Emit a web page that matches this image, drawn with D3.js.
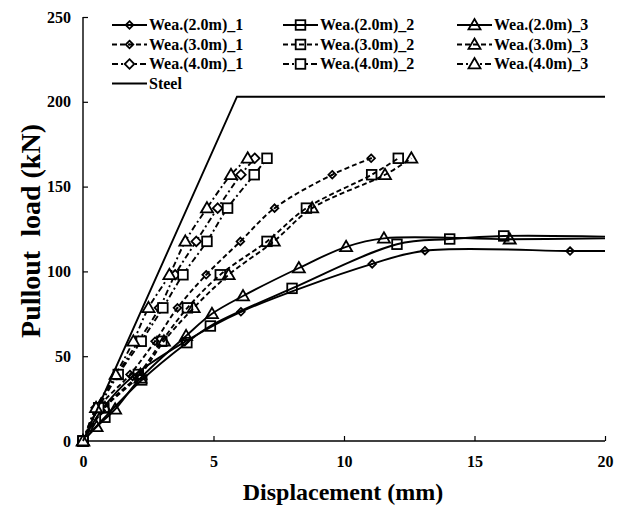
<!DOCTYPE html>
<html>
<head>
<meta charset="utf-8">
<script src="https://cdn.jsdelivr.net/npm/d3@7"></script>
<style>
body { margin: 0; background: #fff; }
svg text { font-family: "Liberation Serif", "Times New Roman", "DejaVu Serif", serif !important; font-weight: bold; fill: #000; }
</style>
</head>
<body>
<div id="chart"></div>
<script>
// tick labels
var xTicks = [0, 5, 10, 15, 20];
var yTicks = [0, 50, 100, 150, 200, 250];

// [displacement mm, load kN]
var wea2_1 = [[0,0],[0.7,18],[1.9,38],[3.9,58.5],[6.05,76.2],[11.08,104.4],[13.1,112.2],[18.66,112],[20,112]];
var wea2_2 = [[0,0],[0.84,14],[2.25,36],[3.98,58],[4.88,67.8],[8.01,90],[12.03,116],[14.05,119.1],[16.12,120.9],[20,120.5]];
var wea2_3 = [[0,0],[0.52,8.4],[1.23,18.7],[2.2,37],[3.95,62],[4.94,75],[6.13,85.5],[8.27,102],[10.08,114.5],[11.53,119.5],[16.35,119],[20,119.5]];
var wea3_1 = [[0,0],[0.6,19.6],[1.8,39.2],[2.76,58.8],[3.62,78.5],[4.72,98],[6.03,117.7],[7.34,137.3],[9.55,157],[11.04,166.7]];
var wea3_2 = [[0,0],[0.8,19.6],[2.12,39.2],[3.02,58.8],[4.0,78.5],[5.26,98],[7.05,117.7],[8.56,137.3],[11.06,157],[12.08,166.7]];
var wea3_3 = [[0,0],[0.84,19.6],[2.2,39.2],[3.1,58.8],[4.24,78.5],[5.58,98],[7.31,117.7],[8.78,137.3],[11.57,157],[12.58,166.7]];
var wea4_1 = [[0,0],[0.5,19.6],[1.3,39.2],[2.12,58.8],[2.93,78.5],[3.53,98],[4.34,117.7],[5.16,137.3],[6.05,157],[6.58,166.7]];
var wea4_2 = [[0,0],[0.6,19.6],[1.35,39.2],[2.23,58.8],[3.06,78.5],[3.83,98],[4.75,117.7],[5.54,137.3],[6.56,157],[7.05,166.7]];
var wea4_3 = [[0,0],[0.5,19.6],[1.25,39.2],[1.93,58.8],[2.51,78.5],[3.31,98],[3.92,117.7],[4.75,137.3],[5.67,157],[6.31,166.7]];
var steel = [[0,0],[5.9,203],[20,203]];

var names = ["Wea.(2.0m)_1","Wea.(2.0m)_2","Wea.(2.0m)_3",
             "Wea.(3.0m)_1","Wea.(3.0m)_2","Wea.(3.0m)_3",
             "Wea.(4.0m)_1","Wea.(4.0m)_2","Wea.(4.0m)_3","Steel"];
var seriesData = [wea2_1, wea2_2, wea2_3, wea3_1, wea3_2, wea3_3, wea4_1, wea4_2, wea4_3, steel];
var markers = ["diamond","square","triangle","diamond","square","triangle","diamond","square","triangle","none"];
var dashes = ["none","none","none","5,3","5,3","5,3","6,3,2,3","6,3,2,3","6,3,2,3","none"];

var FONT = "'Liberation Serif', 'Times New Roman', serif";

var width = 630, height = 507;
var svg = d3.select("#chart").append("svg")
    .attr("width", width)
    .attr("height", height);

var x = d3.scaleLinear().domain([0, 20]).range([83, 605]);
var y = d3.scaleLinear().domain([0, 250]).range([441, 17]);

// axes
var xAxis = svg.append("g")
    .attr("transform", "translate(0," + y(0) + ")")
    .call(d3.axisBottom(x).tickValues(xTicks).tickSize(-5).tickPadding(15).tickFormat(d3.format("d")));
var yAxis = svg.append("g")
    .attr("transform", "translate(" + x(0) + ",0)")
    .call(d3.axisLeft(y).tickValues(yTicks).tickSize(-5).tickPadding(12).tickFormat(d3.format("d")));
[xAxis, yAxis].forEach(function(a){
    a.attr("font-family", FONT);
    a.select(".domain").attr("stroke", "#000").attr("stroke-width", 1.4);
    a.selectAll(".tick line").attr("stroke", "#000").attr("stroke-width", 1.2);
    a.selectAll(".tick text").attr("font-size", 16).attr("font-weight", "bold");
});
xAxis.select(".domain").attr("d", "M" + x(0) + ",0H" + x(20));
yAxis.select(".domain").attr("d", "M0," + y(0) + "V" + y(250));

// axis titles
svg.append("text")
    .attr("x", 343).attr("y", 500)
    .attr("text-anchor", "middle")
    .attr("font-family", FONT)
    .attr("font-size", 24)
    .text("Displacement (mm)");
svg.append("text")
    .attr("transform", "translate(40,231) rotate(-90)")
    .attr("text-anchor", "middle")
    .attr("font-family", FONT)
    .attr("font-size", 28)
    .attr("xml:space", "preserve")
    .text("Pullout  load (kN)");

var line = d3.line()
    .x(function(d){ return x(d[0]); })
    .y(function(d){ return y(d[1]); })
    .curve(d3.curveCatmullRom.alpha(0.5));
var straight = d3.line()
    .x(function(d){ return x(d[0]); })
    .y(function(d){ return y(d[1]); });

function drawMarker(g, type, cx, cy, group) {
    var fill = group === 2 ? "#fff" : "none";
    if (type === "diamond") {
        var r = group === 2 ? 4.8 : 3.8;
        g.append("path")
            .attr("d", "M" + cx + "," + (cy - r) + "L" + (cx + r) + "," + cy + "L" + cx + "," + (cy + r) + "L" + (cx - r) + "," + cy + "Z")
            .attr("fill", fill).attr("stroke", "#000").attr("stroke-width", 1.8);
        if (group !== 2) {
            g.append("circle").attr("cx", cx).attr("cy", cy).attr("r", 1).attr("fill", "#000");
        }
    } else if (type === "square") {
        g.append("rect")
            .attr("x", cx - 4.8).attr("y", cy - 4.8)
            .attr("width", 9.6).attr("height", 9.6)
            .attr("fill", fill).attr("stroke", "#000").attr("stroke-width", 1.8);
    } else if (type === "triangle") {
        g.append("path")
            .attr("d", "M" + cx + "," + (cy - 6) + "L" + (cx + 6) + "," + (cy + 4.3) + "L" + (cx - 6) + "," + (cy + 4.3) + "Z")
            .attr("fill", fill).attr("stroke", "#000").attr("stroke-width", 1.8);
    }
}

// series
seriesData.forEach(function(data, i){
    var g = svg.append("g").attr("class", "series");
    var group = Math.floor(i / 3);
    g.append("path")
        .datum(data)
        .attr("d", i === 9 ? straight : line)
        .attr("fill", "none")
        .attr("stroke", "#000")
        .attr("stroke-width", 1.9)
        .attr("stroke-dasharray", dashes[i]);
    if (markers[i] !== "none") {
        data.forEach(function(d){
            if (d[0] >= 20) return; // plateau end at axis limit carries no marker
            drawMarker(g, markers[i], x(d[0]), y(d[1]), group);
        });
    }
});

// legend
var colX = [112, 283, 457];
var legend = svg.append("g").attr("class", "legend");
names.forEach(function(n, i){
    var col = i % 3, row = Math.floor(i / 3);
    var lx = colX[col], ly = 25 + row * 19.5;
    legend.append("line")
        .attr("x1", lx).attr("x2", lx + 35)
        .attr("y1", ly).attr("y2", ly)
        .attr("stroke", "#000").attr("stroke-width", 1.9)
        .attr("stroke-dasharray", dashes[i]);
    if (markers[i] !== "none") drawMarker(legend, markers[i], lx + 17.5, ly, Math.floor(i / 3));
    legend.append("text")
        .attr("x", lx + 37).attr("y", ly + 5)
        .attr("font-family", FONT)
        .attr("font-size", 16)
        .text(n);
});
</script>
</body>
</html>
